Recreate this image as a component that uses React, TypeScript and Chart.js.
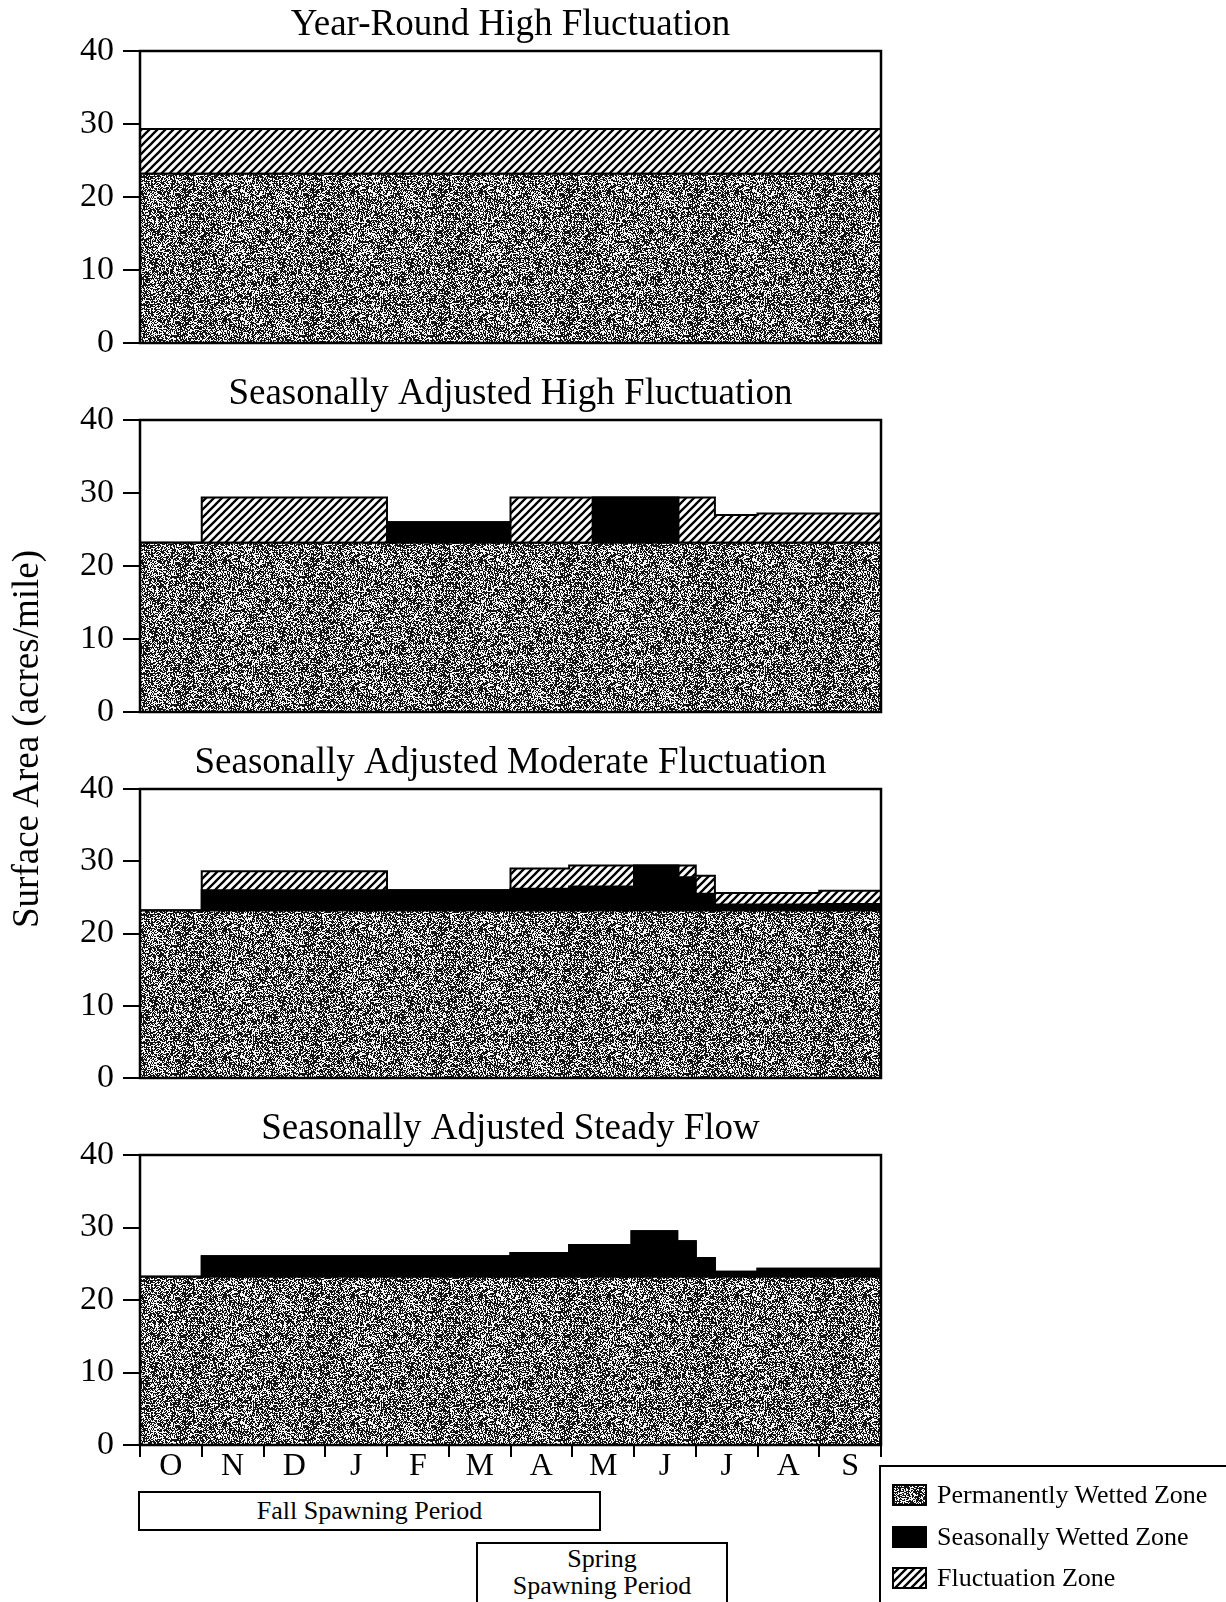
import React, { useEffect, useRef } from "react";
import { Chart, registerables } from "chart.js";

Chart.register(...registerables);
Chart.defaults.font.family = "'Liberation Serif', 'Times New Roman', serif";
Chart.defaults.color = "#000";

// ---------- data ----------
const months = ["O", "N", "D", "J", "F", "M", "A", "M", "J", "J", "A", "S"];
const yTicks = [0, 10, 20, 30, 40];

// x = months since 1 October; each value holds from its break until the next break
const yearRoundBreaks = [0, 12];
const yearRoundPermanent = [23.2];
const yearRoundSeasonal = [0];
const yearRoundFluctuation = [6.1];

const highBreaks = [0, 1, 4, 6, 7.33, 8.72, 9.31, 10, 12];
const highPermanent = [23.2, 23.2, 23.2, 23.2, 23.2, 23.2, 23.2, 23.2];
const highSeasonal = [0, 0, 2.8, 0, 6.2, 0, 0, 0];
const highFluctuation = [0, 6.2, 0, 6.2, 0, 6.2, 3.8, 4.0];

const moderateBreaks = [0, 1, 4, 6, 6.95, 8, 8.72, 9, 9.31, 11, 12];
const moderatePermanent = [23.2, 23.2, 23.2, 23.2, 23.2, 23.2, 23.2, 23.2, 23.2, 23.2];
const moderateSeasonal = [0, 2.8, 2.8, 3.0, 3.3, 6.2, 4.6, 2.3, 0.8, 0.9];
const moderateFluctuation = [0, 2.6, 0, 2.8, 2.9, 0, 1.6, 2.5, 1.6, 1.8];

const steadyBreaks = [0, 1, 6, 6.95, 7.96, 8.7, 9, 9.31, 10, 12];
const steadyPermanent = [23.2, 23.2, 23.2, 23.2, 23.2, 23.2, 23.2, 23.2, 23.2];
const steadySeasonal = [0, 2.85, 3.3, 4.4, 6.3, 4.9, 2.6, 0.7, 1.1];
const steadyFluctuation = [0, 0, 0, 0, 0, 0, 0, 0, 0];

const seriesNames = ["Permanently Wetted Zone", "Seasonally Wetted Zone", "Fluctuation Zone"];

type Panel = {
  title: string;
  breaks: number[];
  permanent: number[];
  seasonal: number[];
  fluctuation: number[];
};

const panels: Panel[] = [
  { title: "Year-Round High Fluctuation", breaks: yearRoundBreaks, permanent: yearRoundPermanent, seasonal: yearRoundSeasonal, fluctuation: yearRoundFluctuation },
  { title: "Seasonally Adjusted High Fluctuation", breaks: highBreaks, permanent: highPermanent, seasonal: highSeasonal, fluctuation: highFluctuation },
  { title: "Seasonally Adjusted Moderate Fluctuation", breaks: moderateBreaks, permanent: moderatePermanent, seasonal: moderateSeasonal, fluctuation: moderateFluctuation },
  { title: "Seasonally Adjusted Steady Flow", breaks: steadyBreaks, permanent: steadyPermanent, seasonal: steadySeasonal, fluctuation: steadyFluctuation },
];

// ---------- layout ----------
const PLOT_TOPS = [51, 420, 789, 1155];
const PLOT_BOTTOMS = [343, 712, 1078, 1445];
const TITLE_BOX = 52;
const SERIF = "'Liberation Serif', 'Times New Roman', serif";

// ---------- patterns ----------
function makeStipple(): CanvasPattern | string {
  const c = document.createElement("canvas");
  c.width = 128;
  c.height = 128;
  const g = c.getContext("2d");
  if (!g) return "#777";
  const img = g.createImageData(128, 128);
  let s = 987654321;
  for (let i = 0; i < 128 * 128; i++) {
    s = (Math.imul(s, 1103515245) + 12345) >>> 0;
    const r = (s >>> 8) / 16777216;
    const v = r < 0.58 ? 20 : 248;
    img.data[i * 4] = v;
    img.data[i * 4 + 1] = v;
    img.data[i * 4 + 2] = v;
    img.data[i * 4 + 3] = 255;
  }
  g.putImageData(img, 0, 0);
  return g.createPattern(c, "repeat") || "#777";
}

function makeHatch(): CanvasPattern | string {
  const c = document.createElement("canvas");
  const n = 8;
  c.width = n;
  c.height = n;
  const g = c.getContext("2d");
  if (!g) return "#aaa";
  g.fillStyle = "#fff";
  g.fillRect(0, 0, n, n);
  g.strokeStyle = "#000";
  g.lineWidth = 2.3;
  g.beginPath();
  for (const o of [-n, 0, n]) {
    g.moveTo(o - 1, n + 1);
    g.lineTo(o + n + 1, -1);
  }
  g.stroke();
  return g.createPattern(c, "repeat") || "#aaa";
}

function toPoints(breaks: number[], vals: number[]) {
  return breaks.map((x, i) => ({ x, y: vals[Math.min(i, vals.length - 1)] }));
}

const framePlugin = {
  id: "frame",
  afterDatasetsDraw(chart: any) {
    const { ctx, chartArea } = chart;
    const { left, top, right, bottom } = chartArea;
    ctx.save();
    ctx.strokeStyle = "#000";
    ctx.lineWidth = 2.5;
    ctx.strokeRect(left, top, right - left, bottom - top);
    ctx.restore();
  },
};

function PanelChart({ panel, index }: { panel: Panel; index: number }) {
  const ref = useRef<HTMLCanvasElement | null>(null);
  const isBottom = index === panels.length - 1;
  const top = PLOT_TOPS[index] - TITLE_BOX;
  const bottomPad = isBottom ? 44 : 40;
  const height = PLOT_BOTTOMS[index] - PLOT_TOPS[index] + TITLE_BOX + bottomPad;

  useEffect(() => {
    if (!ref.current) return;
    const stipple = makeStipple();
    const hatch = makeHatch();
    const common = {
      borderColor: "#000",
      borderWidth: 2,
      stepped: true,
      pointRadius: 0,
      tension: 0,
      xAxisID: "x",
      yAxisID: "y",
    };
    const chart = new Chart(ref.current, {
      type: "line",
      data: {
        labels: months,
        datasets: [
          { ...common, label: seriesNames[0], data: toPoints(panel.breaks, panel.permanent), backgroundColor: stipple, fill: "origin" },
          { ...common, label: seriesNames[1], data: toPoints(panel.breaks, panel.seasonal), backgroundColor: "#000", fill: "-1" },
          { ...common, label: seriesNames[2], data: toPoints(panel.breaks, panel.fluctuation), backgroundColor: hatch, fill: "-1" },
        ],
      } as any,
      options: {
        animation: false,
        responsive: false,
        maintainAspectRatio: false,
        events: [],
        layout: { padding: { left: 0, right: 19, top: 0, bottom: isBottom ? 4 : bottomPad } },
        plugins: {
          legend: { display: false },
          tooltip: { enabled: false },
          title: {
            display: true,
            text: panel.title,
            fullSize: false,
            color: "#000",
            font: { family: SERIF, size: 37, weight: "normal", lineHeight: 1.2 },
            padding: { top: 3.8, bottom: 3.8 },
          },
        },
        scales: {
          x: { type: "linear", min: 0, max: 12, display: false },
          xm: {
            type: "category",
            position: "bottom",
            display: isBottom,
            offset: true,
            border: { display: false },
            grid: { offset: true, drawOnChartArea: false, drawTicks: true, tickLength: 12, color: "#000", lineWidth: 2 },
            ticks: { color: "#000", font: { family: SERIF, size: 32, lineHeight: 1 }, padding: -6, maxRotation: 0, autoSkip: false },
            afterFit: (s: any) => { s.height = isBottom ? 40 : 0; },
          },
          y: {
            stacked: true,
            min: 0,
            max: 40,
            afterFit: (s: any) => { s.width = 140; },
            afterBuildTicks: (s: any) => { s.ticks = yTicks.map((v) => ({ value: v })); },
            ticks: { color: "#000", font: { family: SERIF, size: 34 }, padding: 9 },
            grid: { drawOnChartArea: false, drawTicks: true, tickLength: 17, color: "#000", lineWidth: 2 },
            border: { display: true, color: "#000", width: 2 },
          },
        },
      } as any,
      plugins: [framePlugin],
    });
    return () => chart.destroy();
  }, [panel, isBottom]);

  return (
    <canvas
      ref={ref}
      width={900}
      height={height}
      style={{ position: "absolute", left: 0, top, width: 900, height }}
    />
  );
}

function Swatch({ kind }: { kind: number }) {
  const ref = useRef<HTMLCanvasElement | null>(null);
  useEffect(() => {
    const c = ref.current;
    if (!c) return;
    const g = c.getContext("2d");
    if (!g) return;
    g.clearRect(0, 0, c.width, c.height);
    g.fillStyle = kind === 0 ? makeStipple() : kind === 1 ? "#000" : makeHatch();
    g.fillRect(0, 0, c.width, c.height);
    g.strokeStyle = "#000";
    g.lineWidth = 2;
    g.strokeRect(1, 1, c.width - 2, c.height - 2);
  }, [kind]);
  return <canvas ref={ref} width={35} height={22} style={{ display: "block" }} />;
}

export default function App() {
  const legendRows = [1495, 1537, 1578];
  return (
    <div
      style={{
        position: "absolute",
        left: 0,
        top: 0,
        width: 1226,
        height: 1602,
        overflow: "hidden",
        background: "#fff",
        fontFamily: SERIF,
        color: "#000",
      }}
    >
      {panels.map((p, i) => (
        <PanelChart key={i} panel={p} index={i} />
      ))}

      <div
        style={{
          position: "absolute",
          left: 26,
          top: 739,
          transform: "translate(-50%, -50%) rotate(-90deg)",
          whiteSpace: "nowrap",
          fontSize: 37,
          lineHeight: "40px",
        }}
      >
        Surface Area (acres/mile)
      </div>

      <div
        style={{
          position: "absolute",
          left: 138,
          top: 1491,
          width: 463,
          height: 40,
          boxSizing: "border-box",
          border: "2px solid #000",
          textAlign: "center",
          fontSize: 26,
          lineHeight: "36px",
        }}
      >
        Fall Spawning Period
      </div>

      <div
        style={{
          position: "absolute",
          left: 476,
          top: 1542,
          width: 252,
          height: 90,
          boxSizing: "border-box",
          border: "2px solid #000",
          textAlign: "center",
          fontSize: 26,
          lineHeight: "27px",
          paddingTop: 1,
        }}
      >
        Spring
        <br />
        Spawning Period
      </div>

      <div
        style={{
          position: "absolute",
          left: 879,
          top: 1465,
          width: 380,
          height: 200,
          boxSizing: "border-box",
          border: "2px solid #000",
        }}
      />
      {seriesNames.map((name, i) => (
        <div
          key={name}
          style={{
            position: "absolute",
            left: 892,
            top: legendRows[i] - 16,
            height: 32,
            display: "flex",
            alignItems: "center",
            whiteSpace: "nowrap",
            fontSize: 26,
          }}
        >
          <Swatch kind={i} />
          <span style={{ marginLeft: 10 }}>{name}</span>
        </div>
      ))}
    </div>
  );
}
